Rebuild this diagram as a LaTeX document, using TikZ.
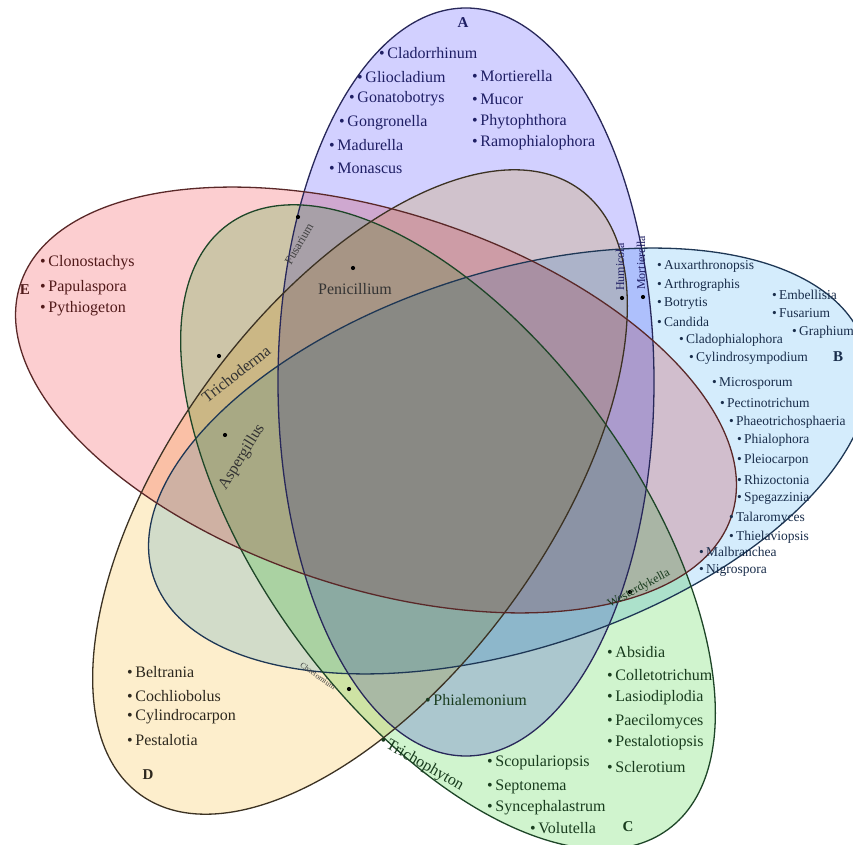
\documentclass[tikz,border=0pt]{standalone}
\usepackage{fontspec}
\setmainfont{Liberation Serif}
\begin{document}
\begin{tikzpicture}[x=1pt,y=1pt,
  lab/.style={font=\fontsize{16}{18}\selectfont, inner sep=0pt, anchor=west},
  labB/.style={font=\fontsize{13.5}{15}\selectfont, inner sep=0pt, anchor=west},
  setlet/.style={font=\bfseries\fontsize{15}{17}\selectfont, inner sep=0pt},
  inlab/.style={font=\fontsize{16}{18}\selectfont, inner sep=0pt, text=black!80},
  smlab/.style={font=\fontsize{12}{14}\selectfont, inner sep=0pt, text=black!75},
  dotp/.style={circle, fill=black, inner sep=0pt, minimum size=4.2pt},
  outl/.style={line width=1.3pt}]
\definecolor{fA}{RGB}{210,208,255}
\definecolor{fB}{RGB}{212,236,252}
\definecolor{fC}{RGB}{208,244,206}
\definecolor{fD}{RGB}{253,238,204}
\definecolor{fE}{RGB}{252,206,208}
\definecolor{sA}{RGB}{40,40,90}
\definecolor{sB}{RGB}{30,55,85}
\definecolor{sC}{RGB}{30,70,40}
\definecolor{sD}{RGB}{60,50,35}
\definecolor{sE}{RGB}{90,40,40}
\definecolor{tA}{RGB}{30,30,100}
\definecolor{tB}{RGB}{25,45,75}
\definecolor{tC}{RGB}{25,60,30}
\definecolor{tD}{RGB}{45,40,30}
\definecolor{tE}{RGB}{80,25,25}
\useasboundingbox (0,0) rectangle (853,844);
\clip (0,0) rectangle (853,844);
\fill[white] (0,0) rectangle (853,844);
\begin{scope}[blend group=multiply]
  \fill[fA, rotate around={0:(466,462)}] (466,462) ellipse [x radius=188, y radius=374];
  \fill[fB, rotate around={-72:(509,383)}] (509,383) ellipse [x radius=188, y radius=374];
  \fill[fC, rotate around={-144:(448,317)}] (448,317) ellipse [x radius=188, y radius=374];
  \fill[fD, rotate around={144:(360,352)}] (360,352) ellipse [x radius=188, y radius=374];
  \fill[fE, rotate around={72:(376,444)}] (376,444) ellipse [x radius=188, y radius=374];
\end{scope}
\draw[outl, sA, rotate around={0:(466,462)}] (466,462) ellipse [x radius=188, y radius=374];
\draw[outl, sB, rotate around={-72:(509,383)}] (509,383) ellipse [x radius=188, y radius=374];
\draw[outl, sC, rotate around={-144:(448,317)}] (448,317) ellipse [x radius=188, y radius=374];
\draw[outl, sD, rotate around={144:(360,352)}] (360,352) ellipse [x radius=188, y radius=374];
\draw[outl, sE, rotate around={72:(376,444)}] (376,444) ellipse [x radius=188, y radius=374];

% set letters
\node[setlet, text=tA] (LA) at (463,821) {A};
\node[setlet, text=tB] (LB) at (838,487) {B};
\node[setlet, text=tC] (LC) at (628,17) {C};
\node[setlet, text=tD] (LD) at (148,69) {D};
\node[setlet, text=tE] (LE) at (25,554) {E};

% A
\begin{scope}[every node/.style={lab, text=tA}]
\node (a1) at (379,791) {\textbullet\,Cladorrhinum};
\node (a2) at (357,767) {\textbullet\,Gliocladium};
\node (a3) at (349,745) {\textbullet\,Gonatobotrys};
\node (a4) at (339,721) {\textbullet\,Gongronella};
\node (a5) at (329,699) {\textbullet\,Madurella};
\node (a6) at (329,676) {\textbullet\,Monascus};
\node (a7) at (472,768) {\textbullet\,Mortierella};
\node (a8) at (472,745) {\textbullet\,Mucor};
\node (a9) at (472,722) {\textbullet\,Phytophthora};
\node (a10) at (472,701) {\textbullet\,Ramophialophora};
\end{scope}

% B
\begin{scope}[every node/.style={labB, text=tB}]
\node (b1) at (657,578) {\textbullet\,Auxarthronopsis};
\node (b2) at (657,559) {\textbullet\,Arthrographis};
\node (b3) at (657,541) {\textbullet\,Botrytis};
\node (b4) at (657,522) {\textbullet\,Candida};
\node (b5) at (679,504) {\textbullet\,Cladophialophora};
\node (b6) at (689,486) {\textbullet\,Cylindrosympodium};
\node (b7) at (712,461) {\textbullet\,Microsporum};
\node (b8) at (720,441) {\textbullet\,Pectinotrichum};
\node (b9) at (729,422) {\textbullet\,Phaeotrichosphaeria};
\node (b10) at (737,404) {\textbullet\,Phialophora};
\node (b11) at (737,384) {\textbullet\,Pleiocarpon};
\node (b12) at (737,364) {\textbullet\,Rhizoctonia};
\node (b13) at (737,346) {\textbullet\,Spegazzinia};
\node (b14) at (729,326) {\textbullet\,Talaromyces};
\node (b15) at (729,307) {\textbullet\,Thielaviopsis};
\node (b16) at (699,292) {\textbullet\,Malbranchea};
\node (b17) at (699,274) {\textbullet\,Nigrospora};
\node (b18) at (772,549) {\textbullet\,Embellisia};
\node (b19) at (772,531) {\textbullet\,Fusarium};
\node (b20) at (792,512) {\textbullet\,Graphium};
\end{scope}

% C
\begin{scope}[every node/.style={lab, text=tC}]
\node (c1) at (607,192) {\textbullet\,Absidia};
\node (c2) at (607,169) {\textbullet\,Colletotrichum};
\node (c3) at (607,146) {\textbullet\,Lasiodiplodia};
\node (c4) at (607,122) {\textbullet\,Paecilomyces};
\node (c5) at (607,101) {\textbullet\,Pestalotiopsis};
\node (c6) at (607,77) {\textbullet\,Sclerotium};
\node (c7) at (487,81) {\textbullet\,Scopulariopsis};
\node (c8) at (487,57) {\textbullet\,Septonema};
\node (c9) at (487,36) {\textbullet\,Syncephalastrum};
\node (c10) at (530,16) {\textbullet\,Volutella};
\end{scope}

% D
\begin{scope}[every node/.style={lab, text=tD}]
\node (d1) at (127,172) {\textbullet\,Beltrania};
\node (d2) at (127,148) {\textbullet\,Cochliobolus};
\node (d3) at (127,127) {\textbullet\,Cylindrocarpon};
\node (d4) at (127,104) {\textbullet\,Pestalotia};
\end{scope}

% E
\begin{scope}[every node/.style={lab, text=tE}]
\node (e1) at (40,581) {\textbullet\,Clonostachys};
\node (e2) at (40,556) {\textbullet\,Papulaspora};
\node (e3) at (40,535) {\textbullet\,Pythiogeton};
\end{scope}

% inner labels
\node[dotp] (pP) at (353,576) {};
\node[inlab] (tP) at (355,555) {Penicillium};
\node[dotp] (pT) at (219,488) {};
\node[inlab, rotate=38] (tT) at (236,470) {Trichoderma};
\node[dotp] (pAs) at (225,409) {};
\node[inlab, rotate=58] (tAs) at (242,387) {Aspergillus};
\node[dotp] (pF) at (298,627) {};
\node[smlab, rotate=60] (tF) at (299,600) {Fusarium};
\node[dotp] (pV1) at (622,546) {};
\node[smlab, rotate=90, anchor=west, text=tA] (tV1) at (620,553) {Humicola};
\node[dotp] (pV2) at (643,547) {};
\node[smlab, rotate=90, anchor=west, text=tA] (tV2) at (641,554) {Mortierella};
\node[dotp] (pW) at (630,252) {};
\node[smlab, rotate=28, anchor=north west, text=tC] (tW) at (606,244) {Westerdykella};
\node[dotp] (pCh) at (349,155) {};
\node[smlab, rotate=-35, font=\fontsize{8}{9}\selectfont] (tCh) at (318,168) {Chaetomium};
\node[inlab, text=tC, anchor=west] (tPh) at (425,144) {\textbullet\,Phialemonium};
\node[inlab, text=tC, rotate=-30, anchor=west] (tTr) at (380,104) {\textbullet\,Trichophyton};
\end{tikzpicture}
\end{document}
